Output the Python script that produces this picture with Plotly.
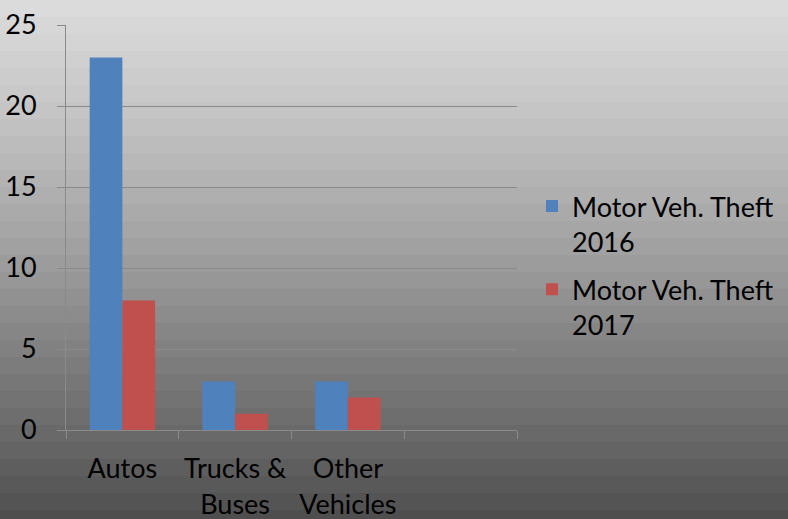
import plotly.graph_objects as go

categories = ["Autos", "Trucks &<br>Buses", "Other<br>Vehicles", " "]
theft_2016 = [23, 3, 3, None]
theft_2017 = [8, 1, 2, None]
y_ticks = [0, 5, 10, 15, 20, 25]

W, H = 788, 519
L, R, T, B = 66, 271, 25, 89
pw, ph = W - L - R, H - T - B

# grey gradient background, drawn as horizontal bands (Excel style)
stops = [(0, 221), (120, 195), (265, 156), (345, 130), (430, 106), (519, 78)]


def grey_at(py):
    for (y0, g0), (y1, g1) in zip(stops, stops[1:]):
        if y0 <= py <= y1:
            return g0 + (g1 - g0) * (py - y0) / (y1 - y0)
    return stops[-1][1]


band = 17
shapes = []
for top in range(0, H, band):
    g = int(round(grey_at(top + band / 2)))
    shapes.append(dict(
        type="rect", xref="paper", yref="paper", layer="below",
        x0=-(L + 2) / pw, x1=(W - L + 2) / pw,
        y0=(H - B - top - band - 1) / ph, y1=(H - B - top + (2 if top == 0 else 0)) / ph,
        fillcolor=f"rgb({g},{g},{g})", line=dict(width=0),
    ))

fig = go.Figure()
fig.add_bar(x=categories, y=theft_2016, name="Motor Veh. Theft<br>2016",
            marker_color="#4f81bd", marker_line_width=0, legendgroup="a")
fig.add_bar(x=categories, y=theft_2017, name="Motor Veh. Theft<br>2017",
            marker_color="#c0504d", marker_line_width=0, legendgroup="b")

tick_font = dict(family="Lato, 'Open Sans', sans-serif", size=27, color="#000000")
legend_font = dict(family="Lato, 'Open Sans', sans-serif", size=27, color="#000000")
fig.update_layout(
    width=W, height=H,
    margin=dict(l=L, r=R, t=T, b=B, autoexpand=False),
    paper_bgcolor="rgba(0,0,0,0)", plot_bgcolor="rgba(0,0,0,0)",
    barmode="group", bargap=0.42, bargroupgap=0,
    font=tick_font,
    shapes=shapes,
    legend=dict(x=(532 - L) / pw, y=(H - B - 182) / ph, xanchor="left", yanchor="top",
                bgcolor="rgba(0,0,0,0)", font=legend_font, tracegroupgap=10,
                valign="top", itemwidth=30),
    xaxis=dict(type="category", tickson="boundaries", ticks="outside", ticklen=8,
               tickcolor="#8a8a8a", showline=True, linecolor="#8a8a8a", showgrid=False,
               tickfont=tick_font, range=[-0.5, 3.5], automargin=False,
               ticklabelstandoff=15),
    yaxis=dict(range=[0, 25], tickvals=y_ticks, showgrid=True, gridcolor="#8a8a8a",
               showline=True, linecolor="#8a8a8a", ticks="outside", ticklen=8,
               tickcolor="#8a8a8a", zeroline=False, tickfont=tick_font,
               ticklabelstandoff=15, automargin=False),
)

fig.write_html("out.html", config={"displayModeBar": False},
               post_script="document.body.style.margin='0';")
